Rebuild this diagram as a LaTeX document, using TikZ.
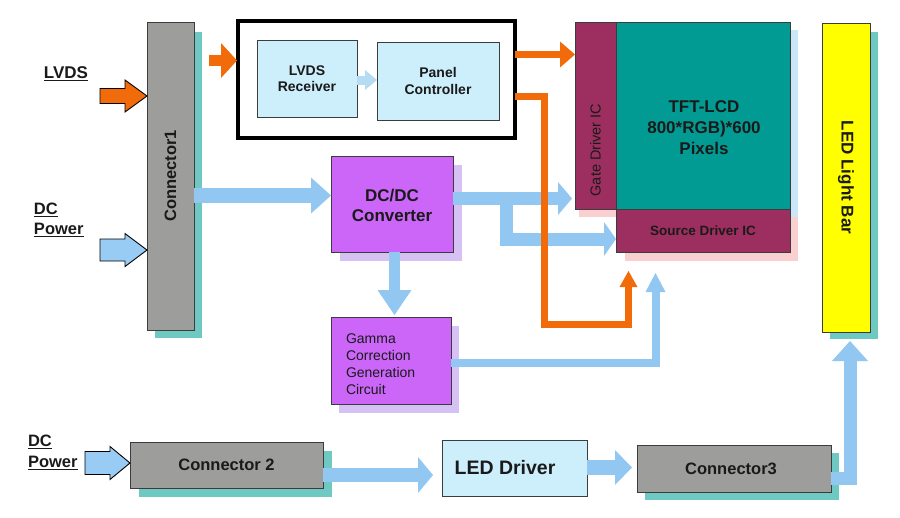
\documentclass[tikz,border=0pt]{standalone}
\usepackage{fontspec}
\setmainfont{Liberation Sans}
\usetikzlibrary{arrows.meta,fit,backgrounds}
\definecolor{connGray}{HTML}{9D9D9B}
\definecolor{conEdge}{HTML}{3C3C3C}
\definecolor{tealSh}{HTML}{6EC9C2}
\definecolor{orangeC}{HTML}{F26B0A}
\definecolor{blueArr}{HTML}{92C7F1}
\definecolor{blueSoft}{HTML}{B5DCF3}
\definecolor{lightBox}{HTML}{CDEEFB}
\definecolor{purp}{HTML}{CB66F8}
\definecolor{purpSh}{HTML}{D5C1F3}
\definecolor{maroon}{HTML}{9C2F5F}
\definecolor{tealC}{HTML}{029B94}
\definecolor{yellowC}{HTML}{FFFF00}
\definecolor{pinkSh}{HTML}{F9CFCF}
\definecolor{blueSh}{HTML}{C9E7F7}
\definecolor{txt}{HTML}{1A1A1A}
\definecolor{inBlue}{HTML}{99CCF5}
\begin{document}
\begin{tikzpicture}[x=1pt,y=-1pt,
  blk/.style={inner sep=0pt, outer sep=0pt, line width=1pt, text=txt},
  con/.style={blk, draw=conEdge, fill=connGray},
  lbox/.style={blk, draw=conEdge, fill=lightBox},
  pbox/.style={blk, draw=conEdge, fill=purp},
  ic/.style={blk, draw=conEdge, fill=maroon},
  lbl/.style={inner sep=0pt, outer sep=0pt, text=txt, align=center},
  barr/.style={draw=blueArr, line join=miter},
  oarr/.style={draw=orangeC, line join=miter},
  inarr/.style={draw=black, line width=0.9pt, line join=miter},
  fattip/.style 2 args={arrows={-Triangle[width=#1pt,length=#2pt,line width=0pt]}}
]
\useasboundingbox (0,0) rectangle (900,517);

% ---------- blocks ----------
\node[con, fit={(147,22) (194,330)}] (con1) {};
\node[lbl, rotate=90, font=\fontsize{16.5}{20}\selectfont\bfseries] (con1t) at (con1.center) {Connector1};

\node[blk, draw=black, line width=4pt, fill=white, fit={(238,21) (515,138)}] (ctrl) {};
\node[lbox, fit={(257,40) (357,117)}] (rx) {};
\node[lbl, font=\fontsize{14}{16.5}\selectfont\bfseries] (rxt) at (rx.center) {LVDS\\Receiver};
\node[lbox, fit={(377,42) (499,120)}] (pc) {};
\node[lbl, font=\fontsize{14}{17}\selectfont\bfseries] (pct) at (pc.center) {Panel\\Controller};

\node[pbox, fit={(331,156) (453,252)}] (dcdc) {};
\node[lbl, font=\fontsize{17}{20}\selectfont\bfseries] (dcdct) at (392,205) {DC/DC\\Converter};
\node[pbox, fit={(331,317) (451,404)}] (gamma) {};
\node[lbl, align=left, anchor=west, font=\fontsize{14}{17}\selectfont] (gammat) at (346,364) {Gamma\\Correction\\Generation\\Circuit};

\node[ic, fit={(575,22) (616,209)}] (gate) {};
\node[lbl, rotate=90, font=\fontsize{14.5}{17}\selectfont] (gatet) at (595.5,150) {Gate Driver IC};
\node[blk, draw=conEdge, fill=tealC, fit={(616,22) (790,209)}] (tft) {};
\node[lbl, font=\fontsize{17}{21}\selectfont\bfseries] (tftt) at (704,128) {TFT-LCD\\800*RGB)*600\\Pixels};
\node[ic, fit={(616,209) (790,252)}] (src) {};
\node[lbl, font=\fontsize{13.5}{16}\selectfont\bfseries] (srct) at (src.center) {Source Driver IC};

\node[blk, draw=conEdge, fill=yellowC, fit={(822,23) (870,332)}] (bar) {};
\node[lbl, rotate=-90, font=\fontsize{17}{20}\selectfont\bfseries] (bart) at (bar.center) {LED Light Bar};

\node[con, fit={(130,442) (323,488)}] (con2) {};
\node[lbl, font=\fontsize{16.5}{20}\selectfont\bfseries] (con2t) at (con2.center) {Connector 2};
\node[lbox, fit={(442,440) (587,496)}] (drv) {};
\node[lbl, font=\fontsize{19.5}{22}\selectfont\bfseries] (drvt) at (505,468) {LED Driver};
\node[con, fit={(637,445) (831,492)}] (con3) {};
\node[lbl, font=\fontsize{16.5}{20}\selectfont\bfseries] (con3t) at ([xshift=-3pt]con3.center) {Connector3};

% ---------- shadows ----------
\begin{scope}[on background layer]
  \fill[white] (0,0) rectangle (900,517);
  \fill[tealSh] ([shift={(8,10)}]con1.north west) rectangle ([shift={(8,8)}]con1.south east);
  \fill[tealSh] ([shift={(8,9)}]bar.north west) rectangle ([shift={(8,7)}]bar.south east);
  \fill[tealSh] ([shift={(9,9)}]con2.north west) rectangle ([shift={(9,9)}]con2.south east);
  \fill[tealSh] ([shift={(8,8)}]con3.north west) rectangle ([shift={(8,8)}]con3.south east);
  \fill[purpSh] ([shift={(9,9)}]dcdc.north west) rectangle ([shift={(9,9)}]dcdc.south east);
  \fill[purpSh] ([shift={(8,9)}]gamma.north west) rectangle ([shift={(8,9)}]gamma.south east);
  \fill[blueSh] ([shift={(8,8)}]tft.north west) rectangle ([shift={(8,8)}]tft.south east);
  \fill[pinkSh] ([shift={(4,8)}]gate.north west) rectangle ([shift={(4,8)}]gate.south east);
  \fill[pinkSh] ([shift={(9,8)}]src.north west) rectangle ([shift={(8,9)}]src.south east);
\end{scope}

% ---------- input arrows ----------
\coordinate (lvdsTip) at (con1.west |- 0,96);
\draw[inarr, fill=orangeC] (lvdsTip) -- ++(-22,-16) -- ++(0,8.5) -- ++(-25,0) -- ++(0,15) -- ++(25,0) -- ++(0,8.5) -- cycle;
\coordinate (dcTip) at (con1.west |- 0,250);
\draw[inarr, fill=inBlue] (dcTip) -- ++(-22,-16.5) -- ++(0,5.5) -- ++(-25,0) -- ++(0,22) -- ++(25,0) -- ++(0,5.5) -- cycle;
\coordinate (dc2Tip) at (con2.west |- 0,463);
\draw[inarr, fill=inBlue] (dc2Tip) -- ++(-20,-16.5) -- ++(0,5) -- ++(-25,0) -- ++(0,23) -- ++(25,0) -- ++(0,5) -- cycle;

\node[lbl, font=\fontsize{17}{20}\selectfont\bfseries] (lvdsl) at (66,74) {\underline{LVDS}};
\node[lbl, align=left, anchor=west, font=\fontsize{16.5}{20}\selectfont\bfseries] (dcl1) at (34,220) {\underline{DC}\\\underline{Power}};
\node[lbl, align=left, anchor=west, font=\fontsize{16.5}{21}\selectfont\bfseries] (dcl2) at (28,452) {\underline{DC}\\\underline{Power}};

% ---------- blue arrows ----------
\draw[barr, line width=15pt, fattip={36}{20}] (con1.east |- 0,195.5) -- (dcdc.west |- 0,195.5);
\draw[barr, line width=13pt, fattip={33}{14}] (dcdc.east |- 0,198.5) -- ([xshift=-3pt]gate.west |- 0,198.5);
\coordinate (brStart) at (506,198.5);
\draw[barr, line width=13pt, fattip={34}{12}] (brStart) -- (506,239) -- (src.west |- 0,239);
\draw[barr, line width=11pt, fattip={34}{25}] (dcdc.south -| 394.5,0) -- ([yshift=2pt]gamma.north -| 394.5,0);
\coordinate (gsTip) at (655.5,273);
\draw[barr, line width=8pt, fattip={20}{19}] (gamma.east |- 0,363) -- (655.5,363) -- (gsTip);
\draw[barr, line width=14pt, fattip={36}{15}] (con2.east |- 0,475) -- ([xshift=-9pt]drv.west |- 0,475);
\draw[barr, line width=15pt, fattip={35}{17}] (drv.east |- 0,467.5) -- ([xshift=-5pt]con3.west |- 0,467.5);
\coordinate (barTip) at (850,341);
\draw[barr, line width=13pt, fattip={36}{20}] (con3.east |- 0,478) -- (850,478) -- (barTip);
\draw[draw=blueSoft, line width=9pt, fattip={20}{12}] (rx.east |- 0,80) -- (pc.west |- 0,80);

% ---------- orange arrows ----------
\coordinate (oStart) at (209,60.5);
\draw[oarr, line width=11pt, fattip={35}{16}] (oStart) -- ([xshift=-1pt]ctrl.west |- 0,60.5);
\draw[oarr, line width=7.5pt, fattip={26}{15}] (ctrl.east |- 0,54.5) -- (gate.west |- 0,54.5);
\coordinate (oTip) at (628.5,271);
\draw[oarr, line width=7pt, fattip={18}{16}] (ctrl.east |- 0,96.5) -- (544.5,96.5) -- (544.5,324) -- (628.5,324) -- (oTip);
\end{tikzpicture}
\end{document}
